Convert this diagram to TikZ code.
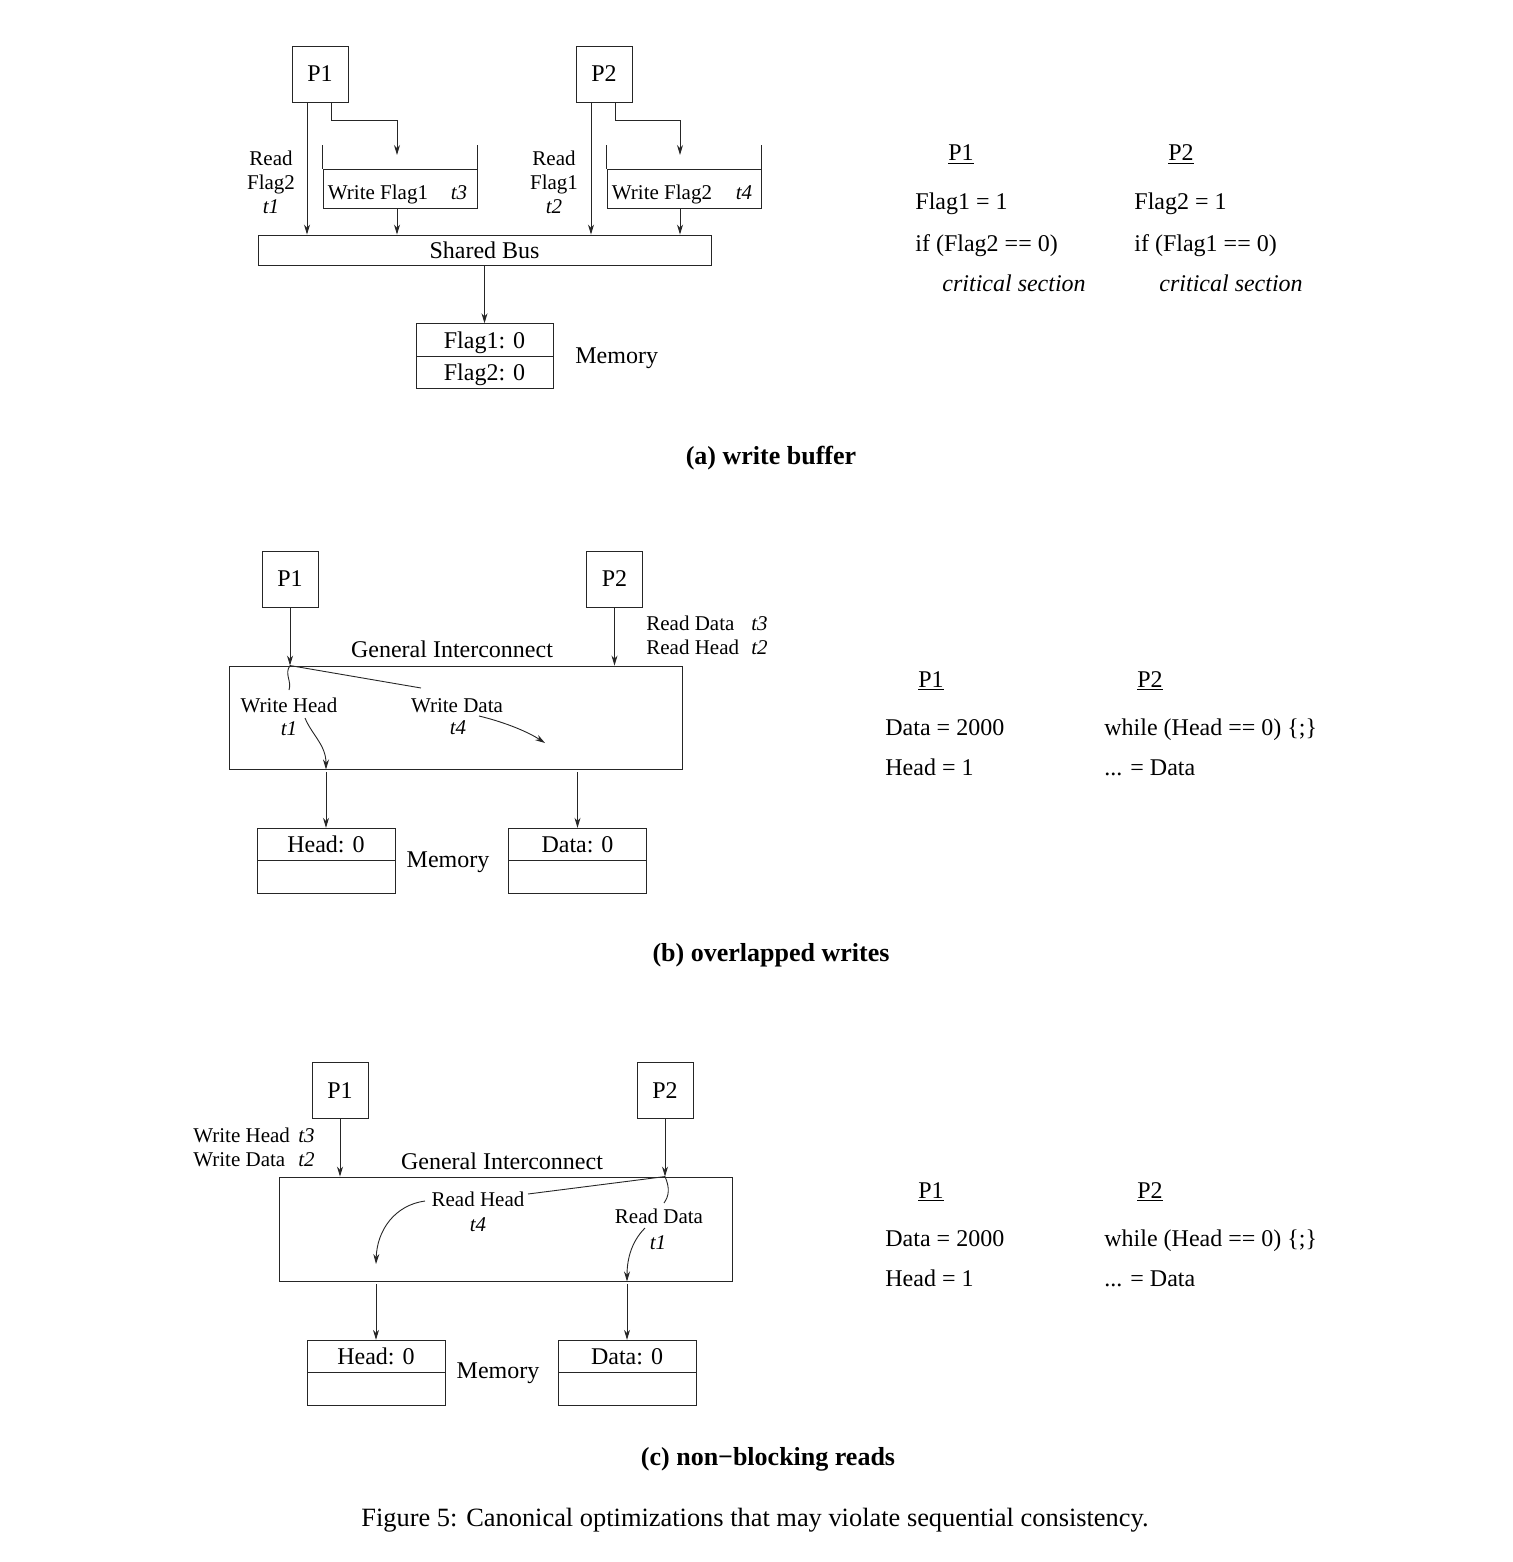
\documentclass[tikz,border=0pt]{standalone}
\usepackage{fontspec}
\setmainfont{Liberation Serif}
\usetikzlibrary{arrows.meta}
\tikzset{
  ln/.style={line width=0.45pt,draw=black!85},
  arr/.style={ln,-{Stealth[length=5pt,width=3pt]}},
  big/.style={font=\fontsize{12}{14}\selectfont},
  sm/.style={font=\fontsize{10.5}{12}\selectfont},
  pbox/.style={draw,ln,big,minimum width=28pt,minimum height=28pt,inner sep=0pt},
  wide/.style={draw,ln,big,minimum width=226.5pt,inner sep=0pt},
  cell/.style={draw,ln,big,minimum width=69pt,minimum height=16.25pt,inner sep=0pt,text height=8pt,text depth=0pt},
  bufbox/.style={draw,ln,minimum width=77pt,minimum height=19.5pt,inner sep=0pt},
  txt/.style={big,inner sep=0pt},
  stxt/.style={sm,inner sep=0pt},
  code/.style={big,inner sep=0pt,anchor=base west},
  captxt/.style={font=\fontsize{13}{15}\selectfont\bfseries,inner sep=0pt},
}
\begin{document}
\begin{tikzpicture}[x=0.5pt,y=-0.5pt]
\useasboundingbox (0,0) rectangle (1512,1562);
% ================= (a) =================
\node[pbox] (a1) at (320,74) {P1};
\node[pbox] (a2) at (604,74) {P2};
\node[wide,minimum height=15pt] (abus) at (484.5,250) {Shared Bus};
\node[cell,minimum width=68.5pt] (am1) at (484.5,340) {Flag1: 0};
\node[cell,minimum width=68.5pt] (am2) at (484.5,372.5) {Flag2: 0};
\node[txt,anchor=west] (amem) at (575,358) {Memory};
\node[bufbox] (buf1) at (400,188.5) {};
\node[bufbox] (buf2) at (684,188.5) {};
\draw[ln] (buf1.north west) -- ++(0,-24);
\draw[ln] (buf1.north east) -- ++(0,-24);
\draw[ln] (buf2.north west) -- ++(0,-24);
\draw[ln] (buf2.north east) -- ++(0,-24);
\node[stxt,anchor=base] (wf1) at (378,199) {Write Flag1};
\node[stxt,anchor=base] (t3a) at (459,199) {\textit{t3}};
\node[stxt,anchor=base] (wf2) at (662,199) {Write Flag2};
\node[stxt,anchor=base] (t4a) at (744,199) {\textit{t4}};
\node[stxt,align=center] (rf2) at (271,182) {Read\\Flag2\\\textit{t1}};
\node[stxt,align=center] (rf1) at (554,182) {Read\\Flag1\\\textit{t2}};
\coordinate (a1L) at ([xshift=-6.5pt]a1.south);
\coordinate (a1R) at ([xshift=5.5pt]a1.south);
\coordinate (a2L) at ([xshift=-6.5pt]a2.south);
\coordinate (a2R) at ([xshift=5.5pt]a2.south);
\coordinate (b1in) at (397,155);
\coordinate (b2in) at (680,155);
\draw[arr] (a1L) -- (a1L |- abus.north);
\draw[arr] (a1R) -- ++(0,18) -| (b1in);
\draw[arr] (b1in |- buf1.south) -- (b1in |- abus.north);
\draw[arr] (a2L) -- (a2L |- abus.north);
\draw[arr] (a2R) -- ++(0,18) -| (b2in);
\draw[arr] (b2in |- buf2.south) -- (b2in |- abus.north);
\draw[arr] (abus.south) -- (am1.north);
% code (a)
\node[txt,anchor=base] (ap1) at (961,161) {\underline{P1}};
\node[txt,anchor=base] (ap2) at (1181,161) {\underline{P2}};
\node[code] (al1) at (915,210) {Flag1 = 1};
\node[code] (al2) at (915,251) {if (Flag2 == 0)};
\node[code] (al3) at (942,292) {\textit{critical section}};
\node[code] (ar1) at (1134,210) {Flag2 = 1};
\node[code] (ar2) at (1134,251) {if (Flag1 == 0)};
\node[code] (ar3) at (1159,292) {\textit{critical section}};
\node[captxt] (acap) at (771,458) {(a) write buffer};
% ================= (b) =================
\node[pbox] (b1) at (290,579) {P1};
\node[pbox] (b2) at (614.5,579) {P2};
\node[wide,minimum height=51.5pt] (bic) at (455.5,717.5) {};
\node[txt] (bgi) at (452,649) {General Interconnect};
\node[stxt,anchor=base west] (brd) at (646,630) {Read Data};
\node[stxt,anchor=base west] (brdt) at (751,630) {\textit{t3}};
\node[stxt,anchor=base west] (brh) at (646,654) {Read Head};
\node[stxt,anchor=base west] (brht) at (751,654) {\textit{t2}};
\node[stxt,anchor=base] (bwh) at (289,712) {Write Head};
\node[stxt,anchor=base] (bt1) at (289,735) {\textit{t1}};
\node[stxt,anchor=base] (bwd) at (457,712) {Write Data};
\node[stxt,anchor=base] (bt4) at (458,734) {\textit{t4}};
\node[cell] (bh1) at (326,844.5) {Head: 0};
\node[cell] (bh2) at (326,877) {};
\node[cell] (bd1) at (577.5,844.5) {Data: 0};
\node[cell] (bd2) at (577.5,877) {};
\node[txt] (bmem) at (448,862) {Memory};
\coordinate (bj) at (b1.south |- bic.north);
\coordinate (bwdin) at (421,688);
\coordinate (bwhin) at (289,690);
\coordinate (bwhout) at (305,718);
\coordinate (bwdout) at (479,716);
\coordinate (bwdend) at (545,743);
\draw[arr] (b1.south) -- (bj);
\draw[arr] (b2.south) -- (b2.south |- bic.north);
\draw[ln] (bj) -- (bwdin);
\draw[ln] (bj) .. controls (284,674) and (292,681) .. (bwhin);
\draw[arr] (bwhout) .. controls (312,735) and (326,745) .. (bh1.north |- bic.south);
\draw[arr] (bwdout) .. controls (500,721) and (525,730) .. (bwdend);
\draw[arr] ([yshift=-1.5pt]bh1.north |- bic.south) -- (bh1.north);
\draw[arr] ([yshift=-1.5pt]bd1.north |- bic.south) -- (bd1.north);
% code (b)
\node[txt,anchor=base] (bp1) at (931,687) {\underline{P1}};
\node[txt,anchor=base] (bp2) at (1150,687) {\underline{P2}};
\node[code] (bl1) at (885,735) {Data = 2000};
\node[code] (bl2) at (885,775) {Head = 1};
\node[code] (br1) at (1104,735) {while (Head == 0) \{;\}};
\node[code] (br2) at (1104,775) {... = Data};
\node[captxt] (bcap) at (771,955) {(b) overlapped writes};
% ================= (c) =================
\node[pbox] (c1) at (340,1090.5) {P1};
\node[pbox] (c2) at (665,1090.5) {P2};
\node[wide,minimum height=52pt] (cic) at (505.5,1229) {};
\node[txt] (cgi) at (502,1161) {General Interconnect};
\node[stxt,anchor=base west] (cwh) at (193,1142) {Write Head};
\node[stxt,anchor=base west] (cwht) at (298,1142) {\textit{t3}};
\node[stxt,anchor=base west] (cwd) at (193,1166) {Write Data};
\node[stxt,anchor=base west] (cwdt) at (298,1166) {\textit{t2}};
\node[stxt,anchor=base] (crh) at (478,1206) {Read Head};
\node[stxt,anchor=base] (ct4) at (478,1231) {\textit{t4}};
\node[stxt,anchor=base] (crd) at (659,1223) {Read Data};
\node[stxt,anchor=base] (ct1) at (658,1249) {\textit{t1}};
\node[cell] (ch1) at (376,1356.5) {Head: 0};
\node[cell] (ch2) at (376,1389) {};
\node[cell] (cd1) at (627,1356.5) {Data: 0};
\node[cell] (cd2) at (627,1389) {};
\node[txt] (cmem) at (498,1373) {Memory};
\coordinate (cj) at (c2.south |- cic.north);
\coordinate (crhin) at (528,1194);
\coordinate (crdin) at (664,1203);
\coordinate (crhout) at (425,1201);
\coordinate (crhend) at (376,1264);
\coordinate (crdout) at (645,1228);
\draw[arr] (c1.south) -- (c1.south |- cic.north);
\draw[arr] (c2.south) -- (cj);
\draw[ln] (cj) -- (crhin);
\draw[ln] (cj) .. controls (670,1188) and (669,1196) .. (crdin);
\draw[arr] (crhout) .. controls (395,1205) and (377,1230) .. (crhend);
\draw[arr] (crdout) .. controls (630,1243) and (627,1262) .. (cd1.north |- cic.south);
\draw[arr] ([yshift=-1.5pt]ch1.north |- cic.south) -- (ch1.north);
\draw[arr] ([yshift=-1.5pt]cd1.north |- cic.south) -- (cd1.north);
% code (c)
\node[txt,anchor=base] (cp1) at (931,1198) {\underline{P1}};
\node[txt,anchor=base] (cp2) at (1150,1198) {\underline{P2}};
\node[code] (cl1) at (885,1246) {Data = 2000};
\node[code] (cl2) at (885,1286) {Head = 1};
\node[code] (cr1) at (1104,1246) {while (Head == 0) \{;\}};
\node[code] (cr2) at (1104,1286) {... = Data};
\node[captxt] (ccap) at (768,1459) {(c) non−blocking reads};
\node[inner sep=0pt,font=\fontsize{13.2}{15}\selectfont] (fig) at (755,1520) {Figure 5: Canonical optimizations that may violate sequential consistency.};
\end{tikzpicture}
\end{document}
